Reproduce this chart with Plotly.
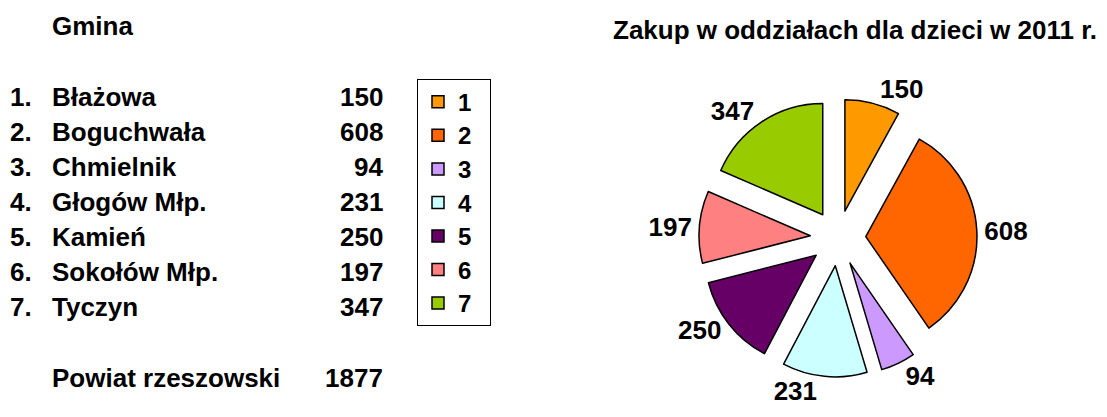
import plotly.graph_objects as go

# Purchases in children's departments, 2011, per commune
gminy = ["Błażowa", "Boguchwała", "Chmielnik", "Głogów Młp.", "Kamień", "Sokołów Młp.", "Tyczyn"]
zakup = [150, 608, 94, 231, 250, 197, 347]
numery = ["1", "2", "3", "4", "5", "6", "7"]
powiat_nazwa = "Powiat rzeszowski"
powiat_suma = 1877
kolory = ["#FF9900", "#FF6600", "#CC99FF", "#CCFFFF", "#660066", "#FF8080", "#99CC00"]

W, H = 1107, 417
FONT = "Liberation Sans, Arial, sans-serif"


def px(x):
    return x / W


def py(y):
    return 1 - y / H


fig = go.Figure()

fig.add_trace(go.Pie(
    labels=[f'<b><span style="font-size:24px">{n}</span></b>\u00a0\u00a0' for n in numery],
    values=zakup,
    sort=False,
    direction="clockwise",
    rotation=0,
    pull=[0.25] * len(zakup),
    marker=dict(colors=kolory, line=dict(color="black", width=1.5)),
    textposition="outside",
    outsidetextfont=dict(family=FONT, size=26, color="black"),
    texttemplate="<b>%{value}</b>",
    domain=dict(x=[px(699), px(977)], y=[py(377), py(99)]),
    hovertemplate="%{value}<extra></extra>",
))

ann = []
ann.append(dict(text="<b>Gmina</b>", x=px(50), y=py(26), xanchor="left", yanchor="middle"))
row_y = [97, 132, 167, 202, 237, 272, 307]
for i, (g, v) in enumerate(zip(gminy, zakup)):
    ann.append(dict(text=f"<b>{i + 1}.</b>", x=px(8), y=py(row_y[i]), xanchor="left", yanchor="middle"))
    ann.append(dict(text=f"<b>{g}</b>", x=px(50), y=py(row_y[i]), xanchor="left", yanchor="middle"))
    ann.append(dict(text=f"<b>{v}</b>", x=px(385), y=py(row_y[i]), xanchor="right", yanchor="middle"))
ann.append(dict(text=f"<b>{powiat_nazwa}</b>", x=px(50), y=py(378), xanchor="left", yanchor="middle"))
ann.append(dict(text=f"<b>{powiat_suma}</b>", x=px(385), y=py(378), xanchor="right", yanchor="middle"))
ann.append(dict(text="<b>Zakup w oddziałach dla dzieci w 2011 r.</b>", x=px(855), y=py(30),
                xanchor="center", yanchor="middle", font=dict(size=26, family=FONT, color="black")))
for a in ann:
    a.update(xref="paper", yref="paper", showarrow=False)
    a.setdefault("font", dict(size=26, family=FONT, color="black"))

fig.update_layout(
    width=W, height=H,
    margin=dict(l=0, r=0, t=0, b=0, autoexpand=False),
    paper_bgcolor="white", plot_bgcolor="white",
    font=dict(family=FONT, color="black"),
    annotations=ann,
    showlegend=True,
    legend=dict(
        x=px(417), y=py(79), xanchor="left", yanchor="top",
        bordercolor="black", borderwidth=1, bgcolor="white",
        font=dict(family=FONT, size=23.5, color="black"),
        traceorder="normal",
    ),
)

fig.write_html("out.html")
